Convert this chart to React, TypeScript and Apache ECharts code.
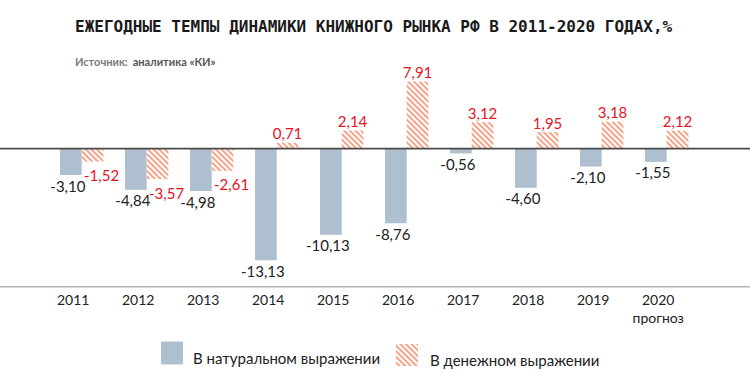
import React, { useEffect, useRef } from "react";
import * as echarts from "echarts";

const years = ["2011", "2012", "2013", "2014", "2015", "2016", "2017", "2018", "2019", "2020"];
const yearNotes = ["", "", "", "", "", "", "", "", "", "прогноз"];
const naturalValues = [-3.1, -4.84, -4.98, -13.13, -10.13, -8.76, -0.56, -4.6, -2.1, -1.55];
const moneyValues = [-1.52, -3.57, -2.61, 0.71, 2.14, 7.91, 3.12, 1.95, 3.18, 2.12];
const seriesNames = ["В натуральном выражении", "В денежном выражении"];
const titleText = "ЕЖЕГОДНЫЕ ТЕМПЫ ДИНАМИКИ КНИЖНОГО РЫНКА РФ В 2011-2020 ГОДАХ,%";
const sourceLabel = "Источник:";
const sourceName = "аналитика «КИ»";

const NARROW = "Lato, 'Open Sans', sans-serif";
const BLUE = "#aebfcf";
const HATCH = "#f5a48a";
const RED_TEXT = "#e8131f";

const fmt = (v: number) => v.toFixed(2).replace(".", ",");

export default function App() {
  const ref = useRef<HTMLDivElement>(null);
  useEffect(() => {
    if (!ref.current) return;
    const chart = echarts.init(ref.current, undefined, { renderer: "svg" });
    const decal = {
      symbol: "rect",
      symbolSize: 1,
      color: HATCH,
      dashArrayX: [1, 0],
      dashArrayY: [2, 2],
      rotation: Math.PI / 4,
    };
    const legendText = (padLeft: number) => ({
      fontFamily: NARROW,
      fontSize: 15,
      color: "#222",
      rich: {
        s: { fontSize: 10, lineHeight: 10 },
        t: { fontFamily: NARROW, fontSize: 15, color: "#222", lineHeight: 18, padding: [0, 0, 0, padLeft] },
      },
    });
    chart.setOption({
      animation: false,
      backgroundColor: "#ffffff",
      title: [
        {
          text: titleText,
          left: 75,
          top: 18,
          padding: 0,
          textStyle: {
            fontFamily: "'DejaVu Sans Mono', monospace",
            fontWeight: "bold",
            fontSize: 16,
            color: "#1a1a1a",
          },
        },
        {
          text: `{a|${sourceLabel}} {b|${sourceName}}`,
          left: 75,
          top: 52,
          padding: 0,
          textStyle: {
            rich: {
              a: { fontFamily: NARROW, fontSize: 11, color: "#7a7a7a" },
              b: { fontFamily: NARROW, fontSize: 11, fontWeight: "bold", color: "#555" },
            },
          },
        },
      ],
      legend: [
        {
          data: [seriesNames[0]],
          left: 161,
          top: 339,
          padding: 0,
          icon: "rect",
          itemWidth: 22,
          itemHeight: 23,
          formatter: (name: string) => `{s|}\n{t|${name}}`,
          textStyle: legendText(5),
        },
        {
          data: [seriesNames[1]],
          left: 396,
          top: 341,
          padding: 0,
          icon: "rect",
          itemWidth: 22,
          itemHeight: 22,
          formatter: (name: string) => `{s|}\n{t|${name}}`,
          textStyle: legendText(7),
        },
      ],
      grid: { left: 49.2, right: 50.8, top: 80.7, bottom: 88.3, containLabel: false },
      xAxis: {
        type: "category",
        data: years,
        axisLine: { show: false },
        axisTick: { show: false },
        axisLabel: {
          interval: 0,
          margin: 4,
          formatter: (v: string, i: number) =>
            yearNotes[i] ? `{y|${v}}\n{n|${yearNotes[i]}}` : `{y|${v}}`,
          rich: {
            y: { fontFamily: NARROW, fontSize: 14, color: "#222", padding: [0, 17, 0, 0], lineHeight: 18 },
            n: { fontFamily: NARROW, fontSize: 14, color: "#222", padding: [0, 17, 0, 0], lineHeight: 17 },
          },
        },
      },
      yAxis: {
        type: "value",
        min: -16.24,
        max: 8,
        show: false,
        splitLine: { show: false },
      },
      series: [
        {
          name: seriesNames[0],
          type: "bar",
          barWidth: 21.7,
          barGap: "0%",
          itemStyle: { color: BLUE },
          label: {
            show: true,
            position: "bottom",
            distance: 3,
            offset: [-3, 0],
            fontFamily: NARROW,
            fontSize: 15,
            color: "#222",
            formatter: (p: any) => fmt(p.value),
          },
          data: naturalValues,
        },
        {
          name: seriesNames[1],
          type: "bar",
          barWidth: 21.7,
          barGap: "0%",
          itemStyle: { color: "#ffffff", decal },
          label: {
            show: true,
            fontFamily: NARROW,
            fontSize: 15,
            color: RED_TEXT,
            formatter: (p: any) => fmt(p.value),
          },
          data: moneyValues.map((v) => ({
            value: v,
            label: v < 0
              ? { position: "bottom", distance: 6, offset: [9, 0] }
              : { position: "top", distance: 2, offset: [0, 0] },
          })),
        },
      ],
    });
    const zeroY = chart.convertToPixel({ yAxisIndex: 0 }, 0) as number;
    chart.setOption({
      graphic: [
        {
          type: "line",
          shape: { x1: 0, y1: 286.7, x2: 750, y2: 286.7 },
          style: { stroke: "#b3b3b3", lineWidth: 1.5 },
          z: 1,
        },
        {
          type: "line",
          shape: { x1: 0, y1: zeroY, x2: 750, y2: zeroY },
          style: { stroke: "#4a4a4a", lineWidth: 1.8 },
          z: 100,
        },
      ],
    });
    return () => chart.dispose();
  }, []);
  return <div ref={ref} style={{ width: 750, height: 375, position: "absolute", left: 0, top: 0 }} />;
}
